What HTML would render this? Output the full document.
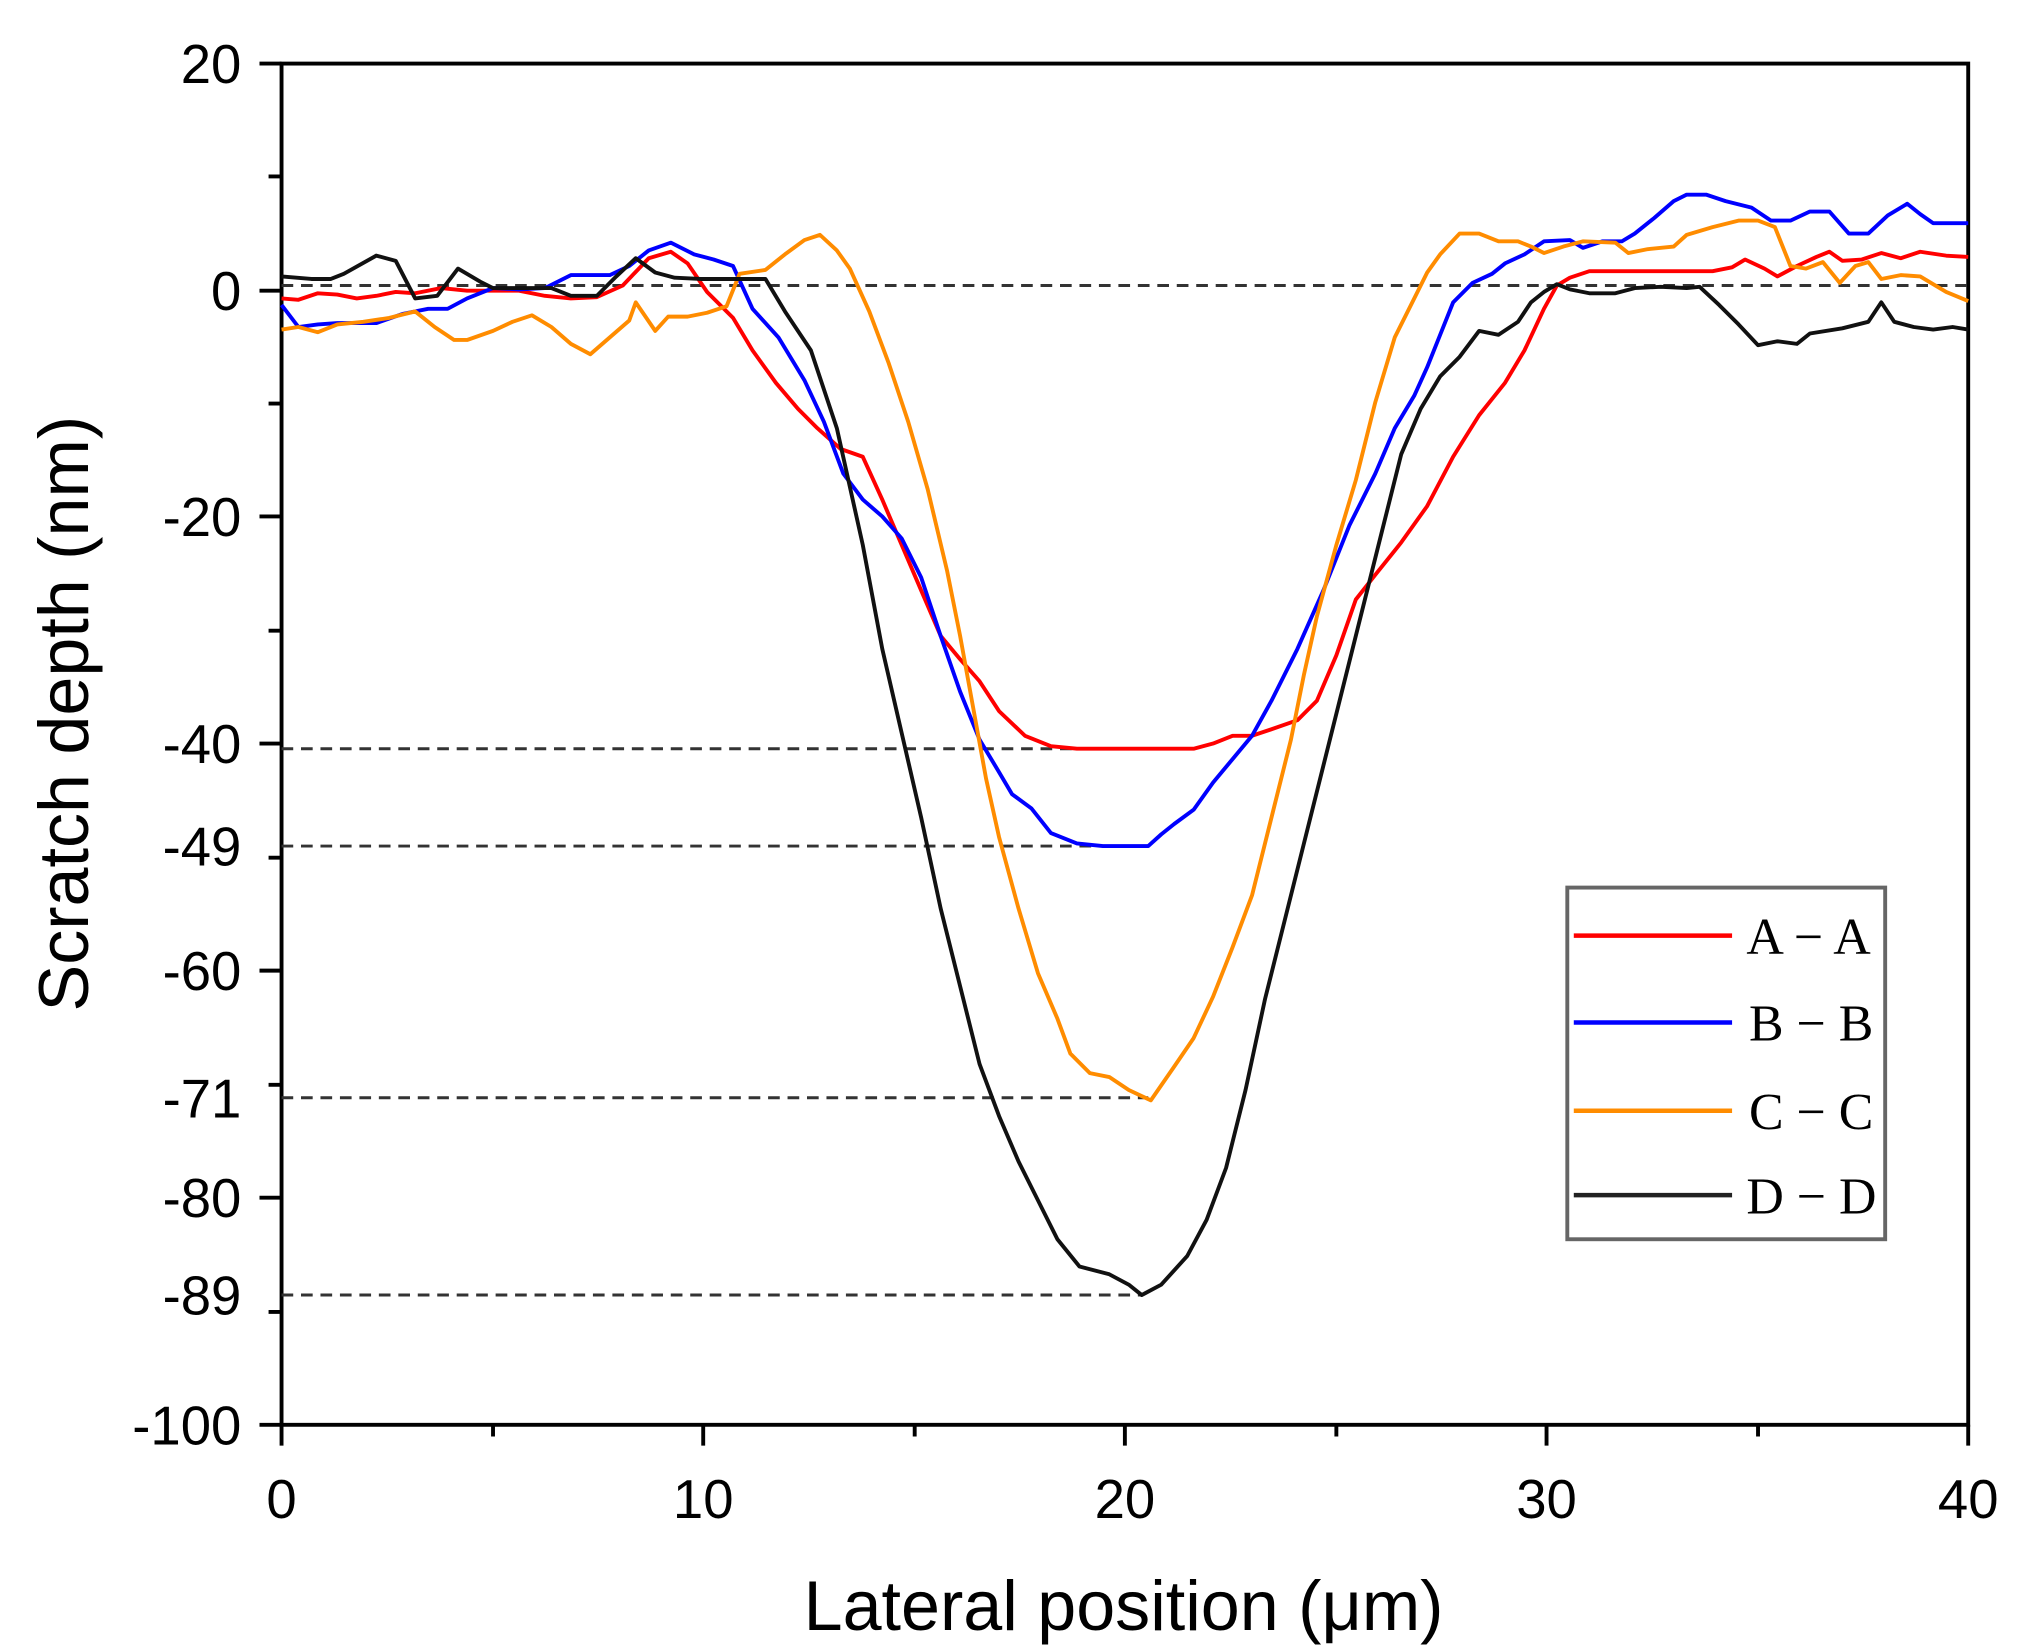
<!DOCTYPE html>
<html><head><meta charset="utf-8"><style>html,body{margin:0;padding:0;background:#fff;}svg{display:block;}</style></head><body>
<svg width="2024" height="1648" viewBox="0 0 1560 1270" preserveAspectRatio="none" xmlns="http://www.w3.org/2000/svg">
<rect width="1560" height="1270" fill="#fff"/>
<g stroke="#000" stroke-width="3" fill="none">
<rect x="217" y="49" width="1300" height="1049"/>
<path d="M200 49H217M200 224H217M200 398H217M200 573H217M200 748H217M200 923H217M200 1098H217M207 136H217M207 311H217M207 486H217M207 661H217M207 836H217M207 1011H217"/>
<path d="M217 1098V1114M542 1098V1114M867 1098V1114M1192 1098V1114M1517 1098V1114M380 1098V1107M705 1098V1107M1030 1098V1107M1355 1098V1107"/>
</g>
<g stroke="#333" stroke-width="2.3" stroke-dasharray="9,6" fill="none">
<path d="M217 220H1517M217 577H870M217 652H890M217 846H885M217 998H880"/>
</g>
<g font-family="Liberation Sans, sans-serif" font-size="42" fill="#000" text-anchor="end">
<text x="186" y="64">20</text><text x="186" y="239">0</text><text x="186" y="413">-20</text><text x="186" y="588">-40</text><text x="186" y="667">-49</text><text x="186" y="763">-60</text><text x="186" y="861">-71</text><text x="186" y="938">-80</text><text x="186" y="1013">-89</text><text x="186" y="1113">-100</text>
</g>
<g font-family="Liberation Sans, sans-serif" font-size="42" fill="#000" text-anchor="middle">
<text x="217" y="1170">0</text><text x="542" y="1170">10</text><text x="867" y="1170">20</text><text x="1192" y="1170">30</text><text x="1517" y="1170">40</text>
<text x="866" y="1256" font-size="54">Lateral position (μm)</text>
<text transform="translate(68,550) rotate(-90)" font-size="54">Scratch depth (nm)</text>
</g>
<g fill="none" stroke-width="3" stroke-linejoin="round">
<polyline stroke="#f00" points="217,230 230,231 245,226 260,227 275,230 290,228 305,225 320,226 340,222 360,224 380,224 400,224 420,228 440,230 460,229 480,220 500,199 517,194 530,203 545,225 565,245 580,270 598,295 615,315 630,330 648,346 665,352 680,385 695,420 710,455 725,490 740,508 755,525 770,548 790,567 810,575 830,577 850,577 870,577 890,577 920,577 935,573 950,567 965,567 980,562 1000,555 1015,540 1030,505 1045,462 1060,443 1080,418 1100,390 1120,352 1140,320 1160,295 1175,270 1190,238 1200,220 1210,214 1225,209 1250,209 1300,209 1320,209 1335,206 1345,200 1360,207 1370,213 1385,205 1400,198 1410,194 1420,201 1435,200 1450,195 1465,199 1480,194 1500,197 1517,198"/>
<polyline stroke="#00f" points="217,235 230,252 245,250 260,249 290,249 310,242 330,238 345,238 360,230 380,222 400,223 420,222 440,212 470,212 485,205 500,193 517,187 535,196 550,200 565,205 580,238 600,260 620,293 635,325 650,365 665,385 680,398 695,415 710,445 725,490 740,533 755,570 770,595 780,612 795,623 810,642 830,650 850,652 885,652 895,643 905,635 920,624 935,603 950,585 965,567 980,540 1000,500 1020,455 1040,405 1060,365 1075,330 1090,305 1100,283 1110,258 1120,233 1135,218 1150,211 1160,203 1175,196 1190,186 1210,185 1220,191 1235,186 1250,186 1260,180 1275,168 1290,155 1300,150 1315,150 1330,155 1350,160 1365,170 1380,170 1395,163 1410,163 1425,180 1440,180 1455,166 1470,157 1480,165 1490,172 1517,172"/>
<polyline stroke="#ff8c00" points="217,254 230,252 245,256 260,250 280,248 300,245 320,240 335,252 350,262 360,262 380,255 395,248 410,243 425,252 440,265 455,273 470,260 485,247 490,233 505,255 515,244 530,244 545,241 560,236 570,211 590,208 605,196 620,185 632,181 645,193 655,207 670,240 685,280 700,325 715,377 730,440 740,490 750,545 760,600 770,645 785,700 800,750 815,785 825,812 840,827 855,830 870,840 887,848 905,822 920,800 935,768 950,730 965,690 980,630 995,570 1005,520 1015,475 1030,420 1045,370 1060,310 1075,260 1090,230 1100,210 1110,196 1125,180 1140,180 1155,186 1170,186 1180,190 1190,195 1205,190 1220,186 1245,187 1255,195 1270,192 1290,190 1300,181 1320,175 1340,170 1355,170 1368,175 1380,205 1392,207 1405,202 1418,218 1430,205 1440,202 1450,215 1465,212 1480,213 1500,225 1517,232"/>
<polyline stroke="#111" points="217,213 240,215 255,215 265,211 290,197 305,201 320,230 337,228 353,207 370,217 380,222 400,222 425,222 440,228 460,228 475,213 490,199 505,210 520,214 540,215 560,215 575,215 590,215 605,240 625,270 645,330 665,420 680,500 695,565 710,630 725,700 740,760 755,820 770,860 785,895 800,925 815,955 832,976 855,982 870,990 880,998 895,990 915,968 930,940 945,900 960,840 975,770 990,710 1005,650 1020,590 1035,530 1050,470 1065,410 1080,350 1095,315 1110,290 1125,275 1140,255 1155,258 1170,248 1180,233 1190,225 1200,219 1210,223 1225,226 1245,226 1260,222 1280,221 1300,222 1310,221 1325,235 1340,250 1355,266 1370,263 1385,265 1395,257 1420,253 1440,248 1450,233 1460,248 1475,252 1490,254 1505,252 1517,254"/>
</g>
<rect x="1208" y="684" width="245" height="271" fill="#fff" stroke="#666" stroke-width="3"/>
<g stroke-width="3.5">
<line x1="1213" y1="721" x2="1335" y2="721" stroke="#f00"/>
<line x1="1213" y1="788" x2="1335" y2="788" stroke="#00f"/>
<line x1="1213" y1="856" x2="1335" y2="856" stroke="#ff8c00"/>
<line x1="1213" y1="921" x2="1335" y2="921" stroke="#222"/>
</g>
<g font-family="Liberation Serif, serif" font-size="40" fill="#000">
<text x="1346" y="735">A − A</text><text x="1348" y="802">B − B</text><text x="1348" y="870">C − C</text><text x="1346" y="935">D − D</text>
</g>
</svg>
</body></html>
